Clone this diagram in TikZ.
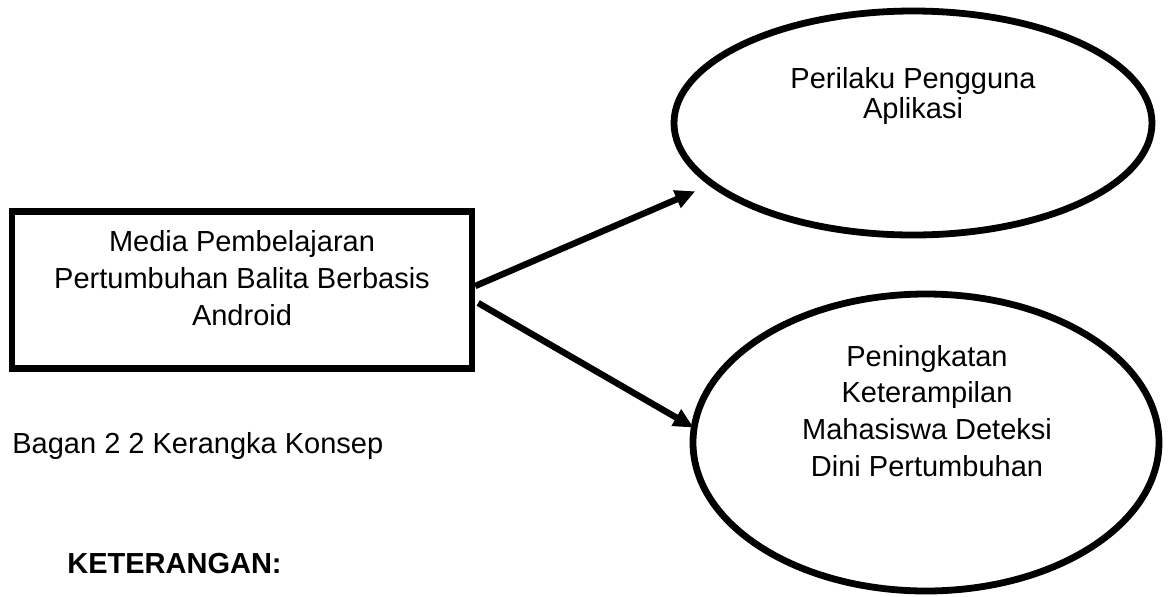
\documentclass[tikz,border=0pt]{standalone}
\usepackage{fontspec}
\setmainfont{Liberation Sans}
\usetikzlibrary{shapes.geometric, arrows.meta}

\begin{document}
\begin{tikzpicture}[
    x=0.5pt, y=-0.5pt,
    box/.style={rectangle, draw, line width=3.2pt, minimum width=230pt, minimum height=78.5pt, inner sep=0pt},
    oval/.style={ellipse, draw, line width=3.4pt, inner sep=0pt},
    txt/.style={align=center, inner sep=0pt, anchor=base, font=\fontsize{14.5}{18.3}\selectfont},
    arrow/.style={-{Triangle[length=10pt, width=9pt]}, line width=3.2pt}
]

% Page frame
\useasboundingbox (0,0) rectangle (1174,596);

% Left: media
\node[box] (media) at (242,290) {};
\node[txt] (mediatxt) at (242,325) {Media Pembelajaran\\Pertumbuhan Balita Berbasis\\Android};

% Right: outcomes
\node[oval, minimum width=239pt, minimum height=112pt] (perilaku) at (913,123) {};
\node[txt, font=\fontsize{14.5}{14.8}\selectfont] (perilakutxt) at (913,118) {Perilaku Pengguna\\Aplikasi};
\node[oval, minimum width=233pt, minimum height=148.5pt] (keterampilan) at (926,442.5) {};
\node[txt] (keterampilantxt) at (927,476) {Peningkatan\\Keterampilan\\Mahasiswa Deteksi\\Dini Pertumbuhan};

% Caption and legend
\node[txt, anchor=base west] (caption) at (12,453) {Bagan 2 2 Kerangka Konsep};
\node[txt, anchor=base west, font=\fontsize{14.5}{18.3}\selectfont\bfseries] (keterangan) at (67,573) {KETERANGAN:};

% Arrows
\draw[arrow, shorten >=7.5pt] ([yshift=2pt]media.east) -- (perilaku.197);
\draw[arrow, shorten >=-1.5pt] ([xshift=1.5pt, yshift=-6.5pt]media.east) -- (keterampilan.176);

\end{tikzpicture}
\end{document}
